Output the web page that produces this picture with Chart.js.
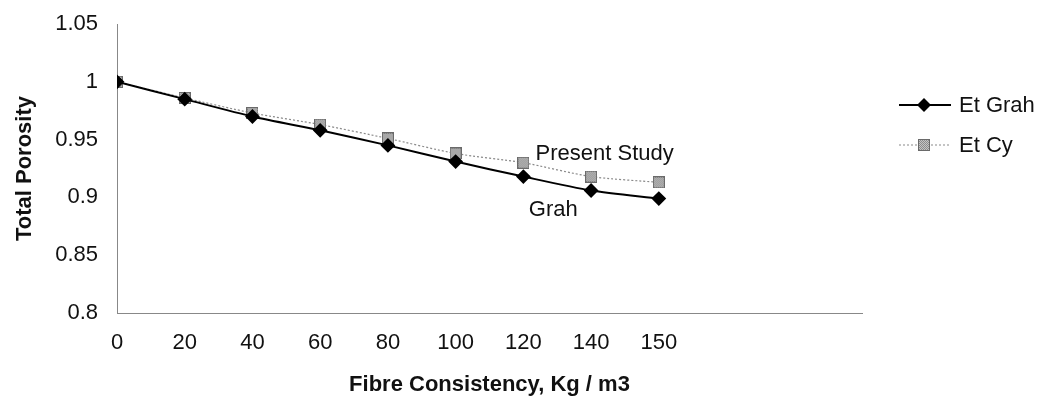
<!DOCTYPE html>
<html>
<head>
<meta charset="utf-8">
<script src="https://cdn.jsdelivr.net/npm/chart.js@4/dist/chart.umd.min.js"></script>
<style>
  html, body { margin: 0; padding: 0; background: #fff; }
  #wrap { width: 1043px; height: 413px; }
</style>
</head>
<body>
<div id="wrap"><canvas id="chart" width="1043" height="413"></canvas></div>
<script>
const xLabels = ["0", "20", "40", "60", "80", "100", "120", "140", "150"];
const grah = [1.0, 0.985, 0.970, 0.958, 0.945, 0.931, 0.918, 0.906, 0.899];
const cy = [1.0, 0.986, 0.973, 0.963, 0.951, 0.938, 0.930, 0.918, 0.913];
const yTicks = [0.8, 0.85, 0.9, 0.95, 1, 1.05];
const seriesNames = ["Et Grah", "Et Cy"];
const notes = [
  { text: "Present Study", x: 6.18, y: 0.938 },
  { text: "Grah", x: 6.08, y: 0.889 }
];

const FONT = '"Liberation Sans", Arial, sans-serif';

// speckled grey square like the scanned marker
function speckle(size) {
  const c = document.createElement("canvas");
  c.width = size; c.height = size;
  const g = c.getContext("2d");
  g.fillStyle = "#8c8c8c";
  g.fillRect(0, 0, size, size);
  g.fillStyle = "#c4c4c4";
  for (let i = 0; i < size; i++) {
    for (let j = 0; j < size; j++) {
      if ((i + j) % 2 === 0) g.fillRect(i, j, 1, 1);
    }
  }
  g.strokeStyle = "#6a6a6a";
  g.strokeRect(0.5, 0.5, size - 1, size - 1);
  return c;
}
const cyMarker = speckle(12);

const toPoints = (arr) => arr.map((v, i) => ({ x: i, y: v }));

const notesPlugin = {
  id: "notesPlugin",
  afterDatasetsDraw(chart) {
    const ctx = chart.ctx;
    const xs = chart.scales.x, ys = chart.scales.y;
    ctx.save();
    ctx.fillStyle = "#111";
    ctx.font = "22px " + FONT;
    ctx.textBaseline = "middle";
    notes.forEach(n => {
      ctx.fillText(n.text, xs.getPixelForValue(n.x), ys.getPixelForValue(n.y));
    });
    ctx.restore();
  }
};

const legendPlugin = {
  id: "legendPlugin",
  afterDraw(chart) {
    const ctx = chart.ctx;
    const x0 = chart.chartArea.right + 37;
    ctx.save();
    chart.data.datasets.forEach((ds, i) => {
      const y = 105 + i * 40;
      ctx.strokeStyle = ds.borderColor;
      ctx.lineWidth = ds.borderWidth;
      ctx.setLineDash(ds.borderDash || []);
      ctx.beginPath();
      ctx.moveTo(x0, y);
      ctx.lineTo(x0 + 52, y);
      ctx.stroke();
      ctx.setLineDash([]);
      const mx = x0 + 25;
      if (i === 0) {
        ctx.fillStyle = "#000";
        ctx.beginPath();
        ctx.moveTo(mx, y - 7); ctx.lineTo(mx + 7, y); ctx.lineTo(mx, y + 7); ctx.lineTo(mx - 7, y);
        ctx.closePath();
        ctx.fill();
      } else {
        ctx.drawImage(cyMarker, mx - 6, y - 6);
      }
      ctx.fillStyle = "#111";
      ctx.font = "22px " + FONT;
      ctx.textBaseline = "middle";
      ctx.fillText(ds.label, x0 + 60, y + 1);
    });
    ctx.restore();
  }
};

new Chart(document.getElementById("chart"), {
  type: "line",
  data: {
    datasets: [
      {
        label: seriesNames[0],
        data: toPoints(grah),
        borderColor: "#000",
        borderWidth: 2,
        tension: 0.25,
        pointStyle: "rectRot",
        pointRadius: 6,
        pointBackgroundColor: "#000",
        pointBorderColor: "#000"
      },
      {
        label: seriesNames[1],
        data: toPoints(cy),
        borderColor: "#8a8a8a",
        borderWidth: 1.2,
        borderDash: [2, 2],
        tension: 0.25,
        pointStyle: cyMarker,
        pointRadius: 6
      }
    ]
  },
  plugins: [notesPlugin, legendPlugin],
  options: {
    responsive: false,
    animation: false,
    layout: { padding: { top: 24, right: 181, bottom: 0, left: 12 } },
    plugins: { legend: { display: false }, tooltip: { enabled: false } },
    scales: {
      x: {
        type: "linear",
        min: 0,
        max: 11,
        afterFit: (s) => { s.height = 100; s.paddingLeft = 0; s.paddingRight = 0; },
        grid: { display: false, drawTicks: false },
        border: { display: true, color: "#888", width: 1, dash: [2, 1] },
        ticks: {
          stepSize: 1,
          autoSkip: false,
          maxRotation: 0,
          padding: 17,
          color: "#111",
          font: { family: FONT, size: 22 },
          callback: (v) => xLabels[v] ?? ""
        },
        title: {
          display: true,
          text: "Fibre Consistency, Kg / m3",
          color: "#111",
          font: { family: FONT, size: 22, weight: "bold" },
          padding: { top: 0, bottom: 15 }
        }
      },
      y: {
        min: 0.8,
        max: 1.05,
        afterFit: (s) => { s.width = 105; s.paddingTop = 0; s.paddingBottom = 0; },
        afterBuildTicks: (scale) => { scale.ticks = yTicks.map(v => ({ value: v })); },
        grid: { display: false, drawTicks: false },
        border: { display: true, color: "#888", width: 1, dash: [2, 1] },
        ticks: {
          padding: 19,
          color: "#111",
          font: { family: FONT, size: 22 },
          callback: (v) => String(+v.toFixed(2))
        },
        title: {
          display: true,
          text: "Total Porosity",
          color: "#111",
          font: { family: FONT, size: 22, weight: "bold" },
          padding: { top: 0, bottom: 0 }
        }
      }
    }
  }
});
</script>
</body>
</html>
